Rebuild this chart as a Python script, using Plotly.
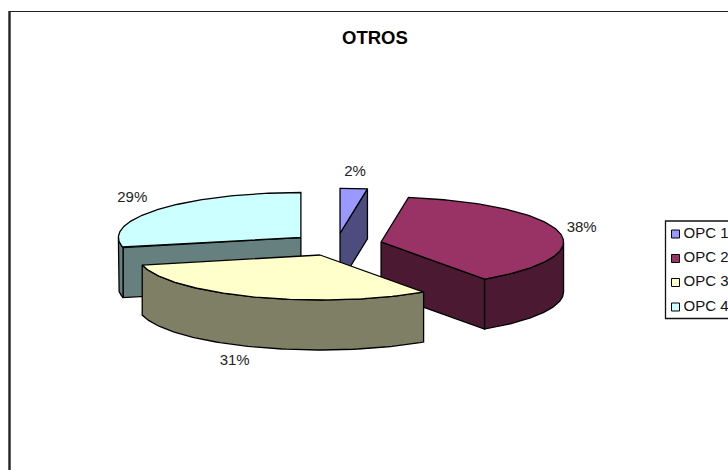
import numpy as np
import plotly.graph_objects as go

categories = ["OPC 1", "OPC 2", "OPC 3", "OPC 4"]
values = [2.4, 38.0, 31.0, 28.6]
top_colors = ["#9999FF", "#993366", "#FFFFCC", "#CCFFFF"]
side_colors = ["#4C4C7F", "#4C1933", "#7F7F66", "#667F7F"]

CX, CY, A, B, DEPTH, EXPLODE = 336.6, 244.5, 182.5, 45.0, 50.0, 0.25
FONT = "Liberation Sans"

fig = go.Figure()


def poly(xs, ys, color):
    fig.add_trace(go.Scatter(
        x=list(xs), y=list(ys), mode="lines", fill="toself", fillcolor=color,
        line=dict(color="#000000", width=1.3), hoverinfo="skip", showlegend=False))


total = sum(values)
bounds = np.concatenate([[0.0], np.cumsum(values)]) / total * 2 * np.pi
slices = []
for i in range(len(values)):
    s, e = bounds[i], bounds[i + 1]
    m = (s + e) / 2
    ax = CX + EXPLODE * A * np.sin(m)
    ay = CY - EXPLODE * B * np.cos(m)
    slices.append((ay, i, s, e, m, ax))

for ay, i, s, e, m, ax in sorted(slices):
    def rim(t):
        return ax + A * np.sin(t), ay - B * np.cos(t)
    # cut faces turned towards the viewer
    if np.sin(s) < -1e-6:
        x, y = rim(s)
        poly([ax, x, x, ax, ax], [ay, y, y + DEPTH, ay + DEPTH, ay], side_colors[i])
    if np.sin(e) > 1e-6:
        x, y = rim(e)
        poly([ax, x, x, ax, ax], [ay, y, y + DEPTH, ay + DEPTH, ay], side_colors[i])
    # curved outer wall (front half only)
    lo, hi = max(s, np.pi / 2), min(e, 3 * np.pi / 2)
    if hi > lo:
        t = np.linspace(lo, hi, 80)
        x, y = rim(t)
        poly(np.r_[x, x[::-1], x[0]], np.r_[y, y[::-1] + DEPTH, y[0]], side_colors[i])
    # top face
    t = np.linspace(s, e, 120)
    x, y = rim(t)
    poly(np.r_[ax, x, ax], np.r_[ay, y, ay], top_colors[i])

# percentage labels
label_pos = [(355, 172), (581.7, 228), (234.7, 361), (132.3, 198)]
pct = [f"{round(v / total * 100)}%" for v in values]
fig.add_trace(go.Scatter(
    x=[p[0] for p in label_pos], y=[p[1] for p in label_pos], mode="text", text=pct,
    textfont=dict(family=FONT, size=15, color="#222222"),
    hoverinfo="skip", showlegend=False))

# legend
fig.add_shape(type="rect", x0=665.5, y0=221, x1=760, y1=318.5,
              line=dict(color="#111111", width=1.3), fillcolor="#FFFFFF", layer="below")
row_y = [234, 258.5, 282.5, 307]
fig.add_trace(go.Scatter(
    x=[675.5] * 4, y=row_y, mode="markers",
    marker=dict(symbol="square", size=8, color=top_colors, line=dict(color="#000000", width=1)),
    hoverinfo="skip", showlegend=False))
fig.add_trace(go.Scatter(
    x=[683.5] * 4, y=row_y, mode="text", text=categories, textposition="middle right",
    textfont=dict(family=FONT, size=15, color="#111111"),
    hoverinfo="skip", showlegend=False))

# outer frame, cut by the window on the right and bottom
fig.add_shape(type="line", x0=9, y0=11.5, x1=728, y1=11.5, line=dict(color="#222222", width=1.2), layer="below")
fig.add_shape(type="line", x0=9.5, y0=11, x1=9.5, y1=470, line=dict(color="#222222", width=2.4), layer="below")

fig.add_annotation(x=374.5, y=37, text="<b>OTROS</b>", showarrow=False,
                   font=dict(family=FONT, size=18.5, color="#000000"))

fig.update_layout(
    width=728, height=470, margin=dict(l=0, r=0, t=0, b=0),
    paper_bgcolor="#FFFFFF", plot_bgcolor="#FFFFFF", showlegend=False,
    xaxis=dict(range=[0, 728], visible=False, fixedrange=True),
    yaxis=dict(range=[470, 0], visible=False, fixedrange=True),
)
fig.write_html("out.html", config={"displayModeBar": False},
               post_script="document.body.style.margin='0';document.documentElement.style.overflow='hidden';")
